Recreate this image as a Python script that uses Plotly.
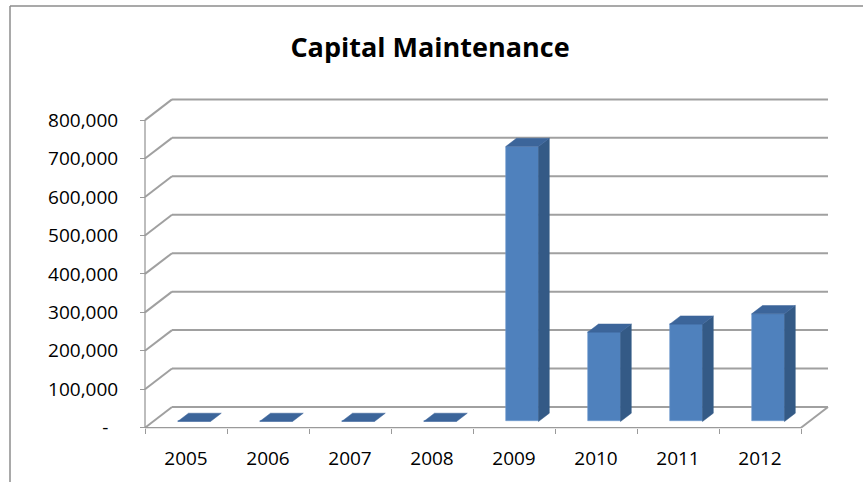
import plotly.graph_objects as go

# ---- data ----
years = ["2005", "2006", "2007", "2008", "2009", "2010", "2011", "2012"]
capital_maintenance = [0, 0, 0, 0, 715000, 232000, 253000, 280000]
y_tick_values = [0, 100000, 200000, 300000, 400000, 500000, 600000, 700000, 800000]
y_tick_labels = ["-\u00a0\u00a0", "100,000", "200,000", "300,000", "400,000",
                 "500,000", "600,000", "700,000", "800,000"]

# ---- page geometry (pixels) ----
W, H = 863, 482
PL, PR, PT, PB = 140, 840, 85, 440       # plot area box
X_AXIS_PX = 145                           # left end of the front category axis
Y_ZERO_PX = 427.7                         # front value axis zero
PX_PER_CAT = 82.0
PX_PER_VAL = 38.45 / 100000

# oblique depth of the 3-D box, in data units
DEPTH_DX = 27 / PX_PER_CAT
DEPTH_DY = 20.7 / PX_PER_VAL
BAR_HALF = 0.2
F0, F1 = 0.3, 0.7                         # bar depth span inside the box

x_lo = -0.5 - (X_AXIS_PX - PL) / PX_PER_CAT
x_hi = -0.5 + (PR - X_AXIS_PX) / PX_PER_CAT
y_lo = -(PB - Y_ZERO_PX) / PX_PER_VAL
y_hi = (Y_ZERO_PX - PT) / PX_PER_VAL

n = len(years)
x_first, x_last = -0.5, n - 0.5
v_max = y_tick_values[-1]

GRID = "#a0a0a0"
FRONT = "#4f81bd"
SIDE = "#345a86"
TOP = "#3c659a"

fig = go.Figure()

# walls, floor and axis lines of the 3-D box
shapes = []
def seg(x0, y0, x1, y1, color=GRID, width=2):
    shapes.append(dict(type="line", xref="x", yref="y", x0=x0, y0=y0, x1=x1, y1=y1,
                       line=dict(color=color, width=width), layer="below"))

for v in y_tick_values:
    seg(x_first + DEPTH_DX, v + DEPTH_DY, x_last + DEPTH_DX, v + DEPTH_DY)   # back wall
    seg(x_first, v, x_first + DEPTH_DX, v + DEPTH_DY)                         # side wall
seg(x_last, 0, x_last + DEPTH_DX, DEPTH_DY)                                   # floor edge
seg(x_first, 0, x_last, 0, color="#9a9a9a", width=1.3)                        # category axis
seg(x_first, 0, x_first, v_max, color="#9a9a9a", width=1.3)                   # value axis

# page border
shapes.append(dict(type="line", xref="paper", yref="paper", x0=10 / W, y0=0,
                   x1=10 / W, y1=1 - 6 / H, line=dict(color="#8c8c8c", width=1.5)))
shapes.append(dict(type="line", xref="paper", yref="paper", x0=10 / W, y0=1 - 6 / H,
                   x1=1, y1=1 - 6 / H, line=dict(color="#8c8c8c", width=1.5)))

# front faces of the columns
fig.add_trace(go.Bar(
    x=[i + F0 * DEPTH_DX for i in range(n)],
    y=capital_maintenance,
    base=[F0 * DEPTH_DY] * n,
    width=2 * BAR_HALF,
    marker=dict(color=FRONT, line=dict(color="#6d98cc", width=0.6)),
    hoverinfo="skip", showlegend=False,
))

# side and top faces
side_x, side_y, top_x, top_y = [], [], [], []
for i, v in enumerate(capital_maintenance):
    xr0 = i + BAR_HALF + F0 * DEPTH_DX
    xr1 = i + BAR_HALF + F1 * DEPTH_DX
    xl0 = i - BAR_HALF + F0 * DEPTH_DX
    xl1 = i - BAR_HALF + F1 * DEPTH_DX
    y0f, y1f = F0 * DEPTH_DY, F1 * DEPTH_DY
    if v > 0:
        side_x += [xr0, xr1, xr1, xr0, xr0, None]
        side_y += [y0f, y1f, v + y1f, v + y0f, y0f, None]
    top_x += [xl0, xr0, xr1, xl1, xl0, None]
    top_y += [v + y0f, v + y0f, v + y1f, v + y1f, v + y0f, None]

fig.add_trace(go.Scatter(x=side_x, y=side_y, mode="lines", fill="toself",
                         fillcolor=SIDE, line=dict(color=SIDE, width=0.5),
                         hoverinfo="skip", showlegend=False))
fig.add_trace(go.Scatter(x=top_x, y=top_y, mode="lines", fill="toself",
                         fillcolor=TOP, line=dict(color=TOP, width=0.5),
                         hoverinfo="skip", showlegend=False))

tick_font = dict(family="Open Sans", size=19, color="#000000")

fig.update_layout(
    width=W, height=H,
    margin=dict(l=0, r=0, t=0, b=0),
    paper_bgcolor="white", plot_bgcolor="white",
    shapes=shapes,
    bargap=0,
    title=dict(text="<b>Capital Maintenance</b>", x=430 / W, y=1 - 48 / H,
               xanchor="center", yanchor="middle",
               font=dict(family="Open Sans", size=27, color="#000000")),
    xaxis=dict(domain=[PL / W, PR / W], range=[x_lo, x_hi],
               anchor="free", position=(H - Y_ZERO_PX) / H,
               tickmode="array", tickvals=list(range(n)), ticktext=years,
               ticks="", showline=False, showgrid=False, zeroline=False,
               tickfont=tick_font, ticklabelstandoff=17,
               minor=dict(tickmode="array",
                          tickvals=[i - 0.5 for i in range(n + 1)],
                          ticks="outside", ticklen=5, tickcolor="#9a9a9a",
                          tickwidth=1.3, showgrid=False),
               fixedrange=True),
    yaxis=dict(domain=[(H - PB) / H, (H - PT) / H], range=[y_lo, y_hi],
               anchor="free", position=X_AXIS_PX / W,
               tickmode="array", tickvals=y_tick_values, ticktext=y_tick_labels,
               ticks="outside", ticklen=5, tickcolor="#9a9a9a", tickwidth=1.3,
               showline=False, showgrid=False, zeroline=False,
               tickfont=tick_font, ticklabelstandoff=18,
               fixedrange=True),
)

fig.write_html("out.html")
